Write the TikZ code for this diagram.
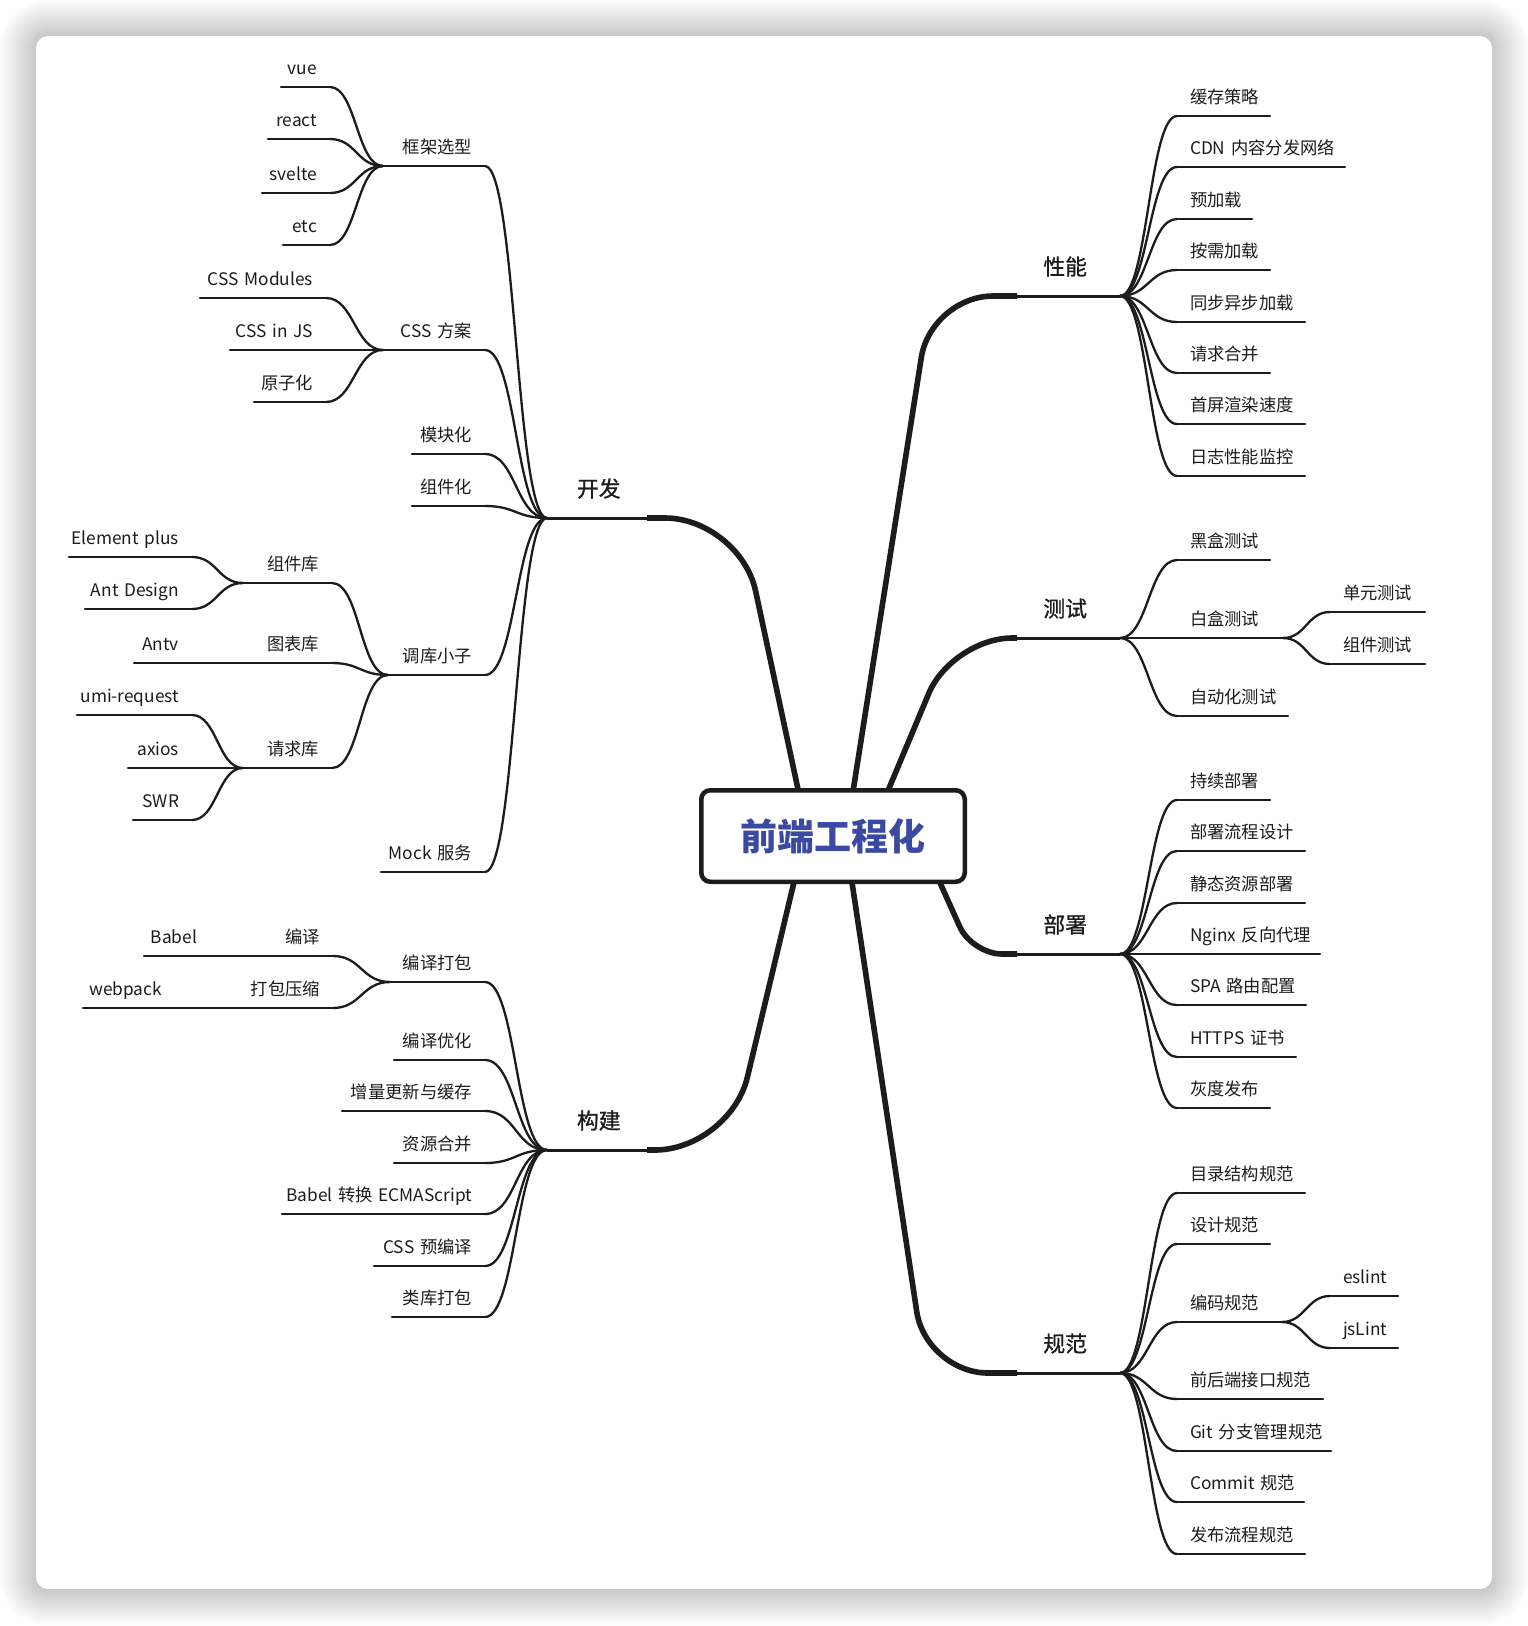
\documentclass[tikz,border=0pt]{standalone}
\usepackage{fontspec}
\setmainfont{Noto Sans CJK SC}
\newfontfamily\lvlfont[FakeBold=1]{Noto Sans CJK SC}
\usepackage{tikz}
\setlength{\parindent}{0pt}
\definecolor{ink}{HTML}{1C1C1C}
\definecolor{rootblue}{HTML}{3A4AA3}
\pgfdeclarelayer{back}
\pgfdeclarelayer{mid}
\pgfsetlayers{back,mid,main}

\begin{document}
\begin{tikzpicture}[
        x=1pt, y=-1pt,
        every node/.style={inner sep=0pt, outer sep=0pt, text=ink},
        sub/.style={font=\fontsize{17.3}{20}\selectfont, text height=14pt, text depth=12.4pt},
        lt/.style={sub, anchor=south east, align=right, execute at end node={\hspace*{#1}}},
        lt/.default=13pt,
        rt/.style={sub, anchor=south west, align=left, execute at begin node={\hspace*{#1}}},
        rt/.default=13pt,
        lvone/.style={font=\lvlfont\fontsize{21.8}{26}\selectfont, text height=17pt, text depth=21.2pt},
        lvr/.style={lvone, anchor=south east, text width=103pt, align=right, execute at end node={\hspace*{33pt}}},
        lvl/.style={lvone, anchor=south west, text width=100pt, align=left, execute at begin node={\hspace*{30pt}}},
        thin/.style={line width=2.3pt, draw=ink, line cap=round},
        rlink/.style={thin, to path={.. controls +(#1,0) and +(-#1,0) .. (\tikztotarget)}},
        llink/.style={thin, to path={.. controls +(-#1,0) and +(#1,0) .. (\tikztotarget)}},
        trunk/.style={line width=5.6pt, draw=ink, rounded corners=#1},
        rootbox/.style={draw=ink, line width=4.5pt, rounded corners=9pt, fill=white,
            minimum width=263.5pt, minimum height=91.5pt,
            font=\bfseries\fontsize{37}{44}\selectfont, text=rootblue}
    ]
  \useasboundingbox (0,0) rectangle (1528,1626);

  % card and shadow
  \begin{pgfonlayer}{back}
    \fill[white] (0,0) rectangle (1528,1626);
    \foreach \r [evaluate=\r as \rr using \r+12] in {2,4,...,36}
      \fill[black, opacity=0.012, rounded corners=\rr pt] (36-\r,36-\r) rectangle (1492+\r,1589+\r);
    \fill[white, rounded corners=12pt] (36,36) rectangle (1492,1589);
  \end{pgfonlayer}

  % root
  \node[rootbox] (root) at (833,836) {前端工程化};

  % main topics
  \node[lvr] (xn) at (1120,296) {性能};
  \node[lvr] (cs) at (1120,638) {测试};
  \node[lvr] (bs) at (1120,954) {部署};
  \node[lvr] (gf) at (1120,1373) {规范};
  \node[lvl] (kf) at (547,518) {开发};
  \node[lvl] (gj) at (547,1150) {构建};

  % 性能
  \node[rt, text width=93pt] (hccl) at (1177,116) {缓存策略};
  \node[rt, text width=168pt] (cdn) at (1177,167) {CDN 内容分发网络};
  \node[rt, text width=75pt] (yjz) at (1177,219) {预加载};
  \node[rt, text width=93pt] (axjz) at (1177,270) {按需加载};
  \node[rt, text width=128pt] (tbyb) at (1177,322) {同步异步加载};
  \node[rt, text width=93pt] (qqhb) at (1177,373) {请求合并};
  \node[rt, text width=128pt] (scxr) at (1177,424) {首屏渲染速度};
  \node[rt, text width=128pt] (rzjk) at (1177,476) {日志性能监控};

  % 测试
  \node[rt, text width=93pt] (hhcs) at (1177,560) {黑盒测试};
  \node[rt, text width=106pt] (bhcs) at (1177,638) {白盒测试};
  \node[rt, text width=111pt] (zdh) at (1177,716) {自动化测试};
  \node[rt, text width=95pt] (dycs) at (1330,612) {单元测试};
  \node[rt, text width=95pt] (zjcs) at (1330,664) {组件测试};

  % 部署
  \node[rt, text width=93pt] (cxbs) at (1177,800) {持续部署};
  \node[rt, text width=128pt] (bslc) at (1177,851) {部署流程设计};
  \node[rt, text width=128pt] (jtzy) at (1177,903) {静态资源部署};
  \node[rt, text width=143pt] (nginx) at (1177,954) {Nginx 反向代理};
  \node[rt, text width=129pt] (spa) at (1177,1005) {SPA 路由配置};
  \node[rt, text width=119pt] (https) at (1177,1057) {HTTPS 证书};
  \node[rt, text width=93pt] (hdfb) at (1177,1108) {灰度发布};

  % 规范
  \node[rt, text width=128pt] (mljg) at (1177,1193) {目录结构规范};
  \node[rt, text width=93pt] (sjgf) at (1177,1244) {设计规范};
  \node[rt, text width=105pt] (bmgf) at (1177,1322) {编码规范};
  \node[rt, text width=146pt] (qhd) at (1177,1399) {前后端接口规范};
  \node[rt, text width=154pt] (git) at (1177,1451) {Git 分支管理规范};
  \node[rt, text width=127pt] (commit) at (1177,1502) {Commit 规范};
  \node[rt, text width=128pt] (fblc) at (1177,1554) {发布流程规范};
  \node[rt, text width=68pt] (eslint) at (1330,1296) {eslint};
  \node[rt, text width=68pt] (jslint) at (1330,1348) {jsLint};

  % 开发
  \node[lt, text width=102pt] (kjxx) at (485,166) {框架选型};
  \node[lt, text width=102pt] (cssfa) at (485,350) {CSS 方案};
  \node[lt, text width=73pt] (mkh) at (485,454) {模块化};
  \node[lt, text width=73pt] (zjh) at (485,506) {组件化};
  \node[lt, text width=97pt] (dkxz) at (485,675) {调库小子};
  \node[lt, text width=104pt] (mock) at (485,872) {Mock 服务};
  \node[lt, text width=49pt] (vue) at (330,87) {vue};
  \node[lt, text width=62pt] (react) at (330,139) {react};
  \node[lt, text width=68pt] (svelte) at (330,193) {svelte};
  \node[lt, text width=47pt] (etc) at (330,245) {etc};
  \node[lt, text width=126pt] (cssmod) at (326,298) {CSS Modules};
  \node[lt, text width=96pt] (cssjs) at (326,350) {CSS in JS};
  \node[lt, text width=72pt] (yzh) at (326,402) {原子化};
  \node[lt, text width=89pt] (zjk) at (332,583) {组件库};
  \node[lt, text width=140pt] (tbk) at (332,663) {图表库};
  \node[lt, text width=89pt] (qqk) at (332,768) {请求库};
  \node[lt, text width=123pt] (elem) at (192,557) {Element plus};
  \node[lt, text width=107pt] (antd) at (192,609) {Ant Design};
  \node[lt, text width=58pt] (antv) at (192,663) {Antv};
  \node[lt, text width=115pt] (umi) at (192,715) {umi-request};
  \node[lt, text width=64pt] (axios) at (192,768) {axios};
  \node[lt, text width=59pt] (swr) at (192,820) {SWR};

  % 构建
  \node[lt, text width=95pt] (bydb) at (485,982) {编译打包};
  \node[lt, text width=91pt] (byyh) at (485,1060) {编译优化};
  \node[lt, text width=143pt] (zlgx) at (485,1111) {增量更新与缓存};
  \node[lt, text width=91pt] (zyhb) at (485,1163) {资源合并};
  \node[lt, text width=203pt] (babelzh) at (485,1214) {Babel 转换 ECMAScript};
  \node[lt, text width=111pt] (cssyby) at (485,1266) {CSS 预编译};
  \node[lt, text width=93pt] (lkdb) at (485,1317) {类库打包};
  \node[lt, text width=123pt] (by) at (333,956) {编译};
  \node[lt, text width=158pt] (dbys) at (333,1008) {打包压缩};
  \node[lt, text width=66pt] (babel) at (210,956) {Babel};
  \node[lt, text width=92pt] (webpack) at (175,1008) {webpack};

  % trunks
  \begin{pgfonlayer}{mid}
    \draw[trunk=62pt] ([xshift=13pt]root.center) -- ([xshift=98pt]root.center |- xn.south) -- (xn.south west);
    \draw[trunk=60pt] ([xshift=36pt]root.center) -- ([xshift=119pt]root.center |- cs.south) -- (cs.south west);
    \draw[trunk=30pt] ([xshift=86pt]root.center) -- ([xshift=139pt]root.center |- bs.south) -- (bs.south west);
    \draw[trunk=62pt] ([xshift=12pt]root.center) -- ([xshift=93pt]root.center |- gf.south) -- (gf.south west);
    \draw[trunk=75pt] ([xshift=-25pt]root.center) -- ([xshift=-93pt]root.center |- kf.south) -- (kf.south east);
    \draw[trunk=75pt] ([xshift=-28pt]root.center) -- ([xshift=-103pt]root.center |- gj.south) -- (gj.south east);
  \end{pgfonlayer}

  % underlines
  \foreach \n in {xn,cs,bs,gf,kf,gj}
    \draw[line width=3pt, draw=ink] (\n.south west) -- (\n.south east);
  \foreach \n in {hccl,cdn,yjz,axjz,tbyb,qqhb,scxr,rzjk,hhcs,bhcs,zdh,dycs,zjcs,
      cxbs,bslc,jtzy,nginx,spa,https,hdfb,mljg,sjgf,bmgf,qhd,git,commit,fblc,eslint,jslint,
      kjxx,cssfa,mkh,zjh,dkxz,mock,vue,react,svelte,etc,cssmod,cssjs,yzh,zjk,tbk,qqk,
      elem,antd,antv,umi,axios,swr,bydb,byyh,zlgx,zyhb,babelzh,cssyby,lkdb,by,dbys,babel,webpack}
    \draw[thin] (\n.south west) -- (\n.south east);

  % branches right
  \foreach \c in {hccl,cdn,yjz,axjz,tbyb,qqhb,scxr,rzjk}
    \draw[rlink=28] (xn.south east) to (\c.south west);
  \foreach \c in {hhcs,bhcs,zdh}
    \draw[rlink=28] (cs.south east) to (\c.south west);
  \foreach \c in {dycs,zjcs}
    \draw[rlink=23] (bhcs.south east) to (\c.south west);
  \foreach \c in {cxbs,bslc,jtzy,nginx,spa,https,hdfb}
    \draw[rlink=28] (bs.south east) to (\c.south west);
  \foreach \c in {mljg,sjgf,bmgf,qhd,git,commit,fblc}
    \draw[rlink=28] (gf.south east) to (\c.south west);
  \foreach \c in {eslint,jslint}
    \draw[rlink=23] (bmgf.south east) to (\c.south west);

  % branches left
  \foreach \c in {kjxx,cssfa,mkh,zjh,dkxz,mock}
    \draw[llink=31] (kf.south west) to (\c.south east);
  \foreach \c in {vue,react,svelte,etc}
    \draw[llink=26] (kjxx.south west) to (\c.south east);
  \foreach \c in {cssmod,cssjs,yzh}
    \draw[llink=28] (cssfa.south west) to (\c.south east);
  \foreach \c in {zjk,tbk,qqk}
    \draw[llink=28] (dkxz.south west) to (\c.south east);
  \foreach \c in {elem,antd}
    \draw[llink=25] (zjk.south west) to (\c.south east);
  \foreach \c in {umi,axios,swr}
    \draw[llink=25] (qqk.south west) to (\c.south east);
  \draw[thin] (tbk.south west) -- (antv.south east);
  \foreach \c in {bydb,byyh,zlgx,zyhb,babelzh,cssyby,lkdb}
    \draw[llink=31] (gj.south west) to (\c.south east);
  \foreach \c in {by,dbys}
    \draw[llink=28] (bydb.south west) to (\c.south east);
  \draw[thin] (by.south west) -- (babel.south east);
  \draw[thin] (dbys.south west) -- (webpack.south east);
\end{tikzpicture}
\end{document}
